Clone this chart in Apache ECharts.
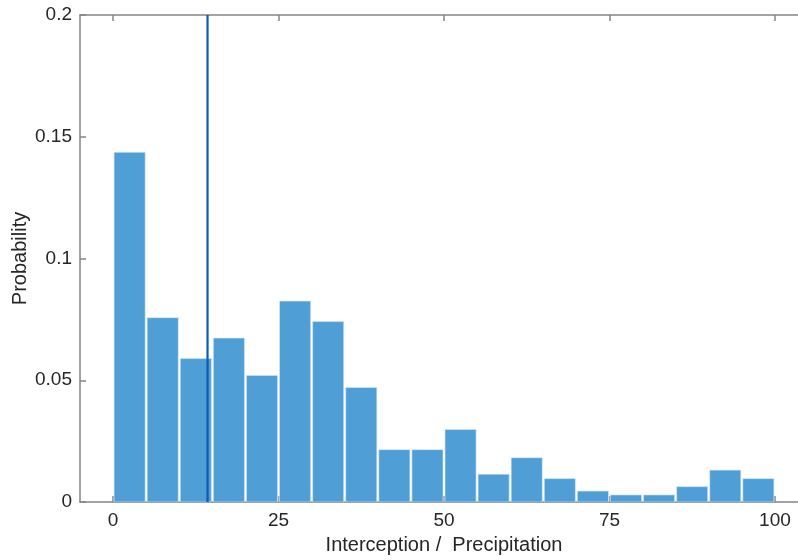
<!DOCTYPE html>
<html>
<head>
<meta charset="utf-8">
<script src="https://cdn.jsdelivr.net/npm/echarts@6/dist/echarts.min.js"></script>
<style>
html,body{margin:0;padding:0;background:#fff;}
#c{width:798px;height:560px;}
</style>
</head>
<body>
<div id="c"></div>
<script>
// Histogram bins (left edges, width 5) and probabilities
const binStarts = [0,5,10,15,20,25,30,35,40,45,50,55,60,65,70,75,80,85,90,95];
const binWidth = 5;
const probabilities = [0.1436,0.0757,0.0589,0.0673,0.0520,0.0825,0.0741,0.0470,0.0215,0.0215,
                       0.0298,0.0114,0.0182,0.0096,0.0045,0.0029,0.0029,0.0063,0.0131,0.0096];
const xTicks = [0,25,50,75,100];
const yTicks = [0,0.05,0.1,0.15,0.2];
const markerX = 14.27;

const font = 'Liberation Sans, Arial, Helvetica, sans-serif';
const axisColor = '#858585';

const chart = echarts.init(document.getElementById('c'));
const barData = binStarts.map((s,i)=>[s, s+binWidth, probabilities[i]]);

chart.setOption({
  animation:false,
  grid:{left:80, top:15, width:728, height:487, containLabel:false, outerBoundsMode:'none'},
  xAxis:[{
    type:'value', min:-5, max:105,
    position:'bottom',
    name:'Interception /  Precipitation',
    nameLocation:'middle', nameGap:33,
    nameTextStyle:{fontFamily:font, fontSize:20, color:'#262626'},
    axisLine:{show:true, onZero:false, lineStyle:{color:axisColor, width:1.5}},
    axisTick:{show:true, inside:true, length:6, customValues:xTicks, lineStyle:{color:axisColor, width:1.5}},
    axisLabel:{fontFamily:font, fontSize:19, color:'#262626', margin:9, customValues:xTicks},
    splitLine:{show:false}
  },{
    type:'value', min:-5, max:105,
    position:'top',
    axisLine:{show:true, onZero:false, lineStyle:{color:axisColor, width:1.5}},
    axisTick:{show:true, inside:true, length:6, customValues:xTicks, lineStyle:{color:axisColor, width:1.5}},
    axisLabel:{show:false},
    splitLine:{show:false}
  }],
  yAxis:{
    type:'value', min:0, max:0.2, interval:0.05,
    name:'Probability', nameLocation:'middle', nameGap:50, nameMoveOverlap:false,
    nameTextStyle:{fontFamily:font, fontSize:20, color:'#262626'},
    axisLine:{show:true, onZero:false, lineStyle:{color:axisColor, width:1.5}},
    axisTick:{show:true, inside:true, length:6, lineStyle:{color:axisColor, width:1.5}},
    axisLabel:{fontFamily:font, fontSize:19, color:'#262626', margin:8,
      formatter:v=>{ const t = yTicks.find(y=>Math.abs(y-v)<1e-9); return t===undefined?'':String(t);} },
    splitLine:{show:false}
  },
  series:[{
    type:'custom',
    clip:true,
    data:barData,
    renderItem:(params, api)=>{
      const p0 = api.coord([api.value(0), 0]);
      const p1 = api.coord([api.value(1), api.value(2)]);
      return {
        type:'rect',
        shape:{x:p0[0]+1, y:p1[1], width:p1[0]-p0[0]-2, height:p0[1]-p1[1]},
        style:{fill:'#4f9fd6', stroke:'#d8e8f4', lineWidth:0.6}
      };
    },
    z:2
  },{
    type:'line',
    data:[[markerX,0],[markerX,0.2]],
    symbol:'none',
    lineStyle:{color:'#0b5cb2', width:2.2},
    z:3
  }]
});
</script>
</body>
</html>
